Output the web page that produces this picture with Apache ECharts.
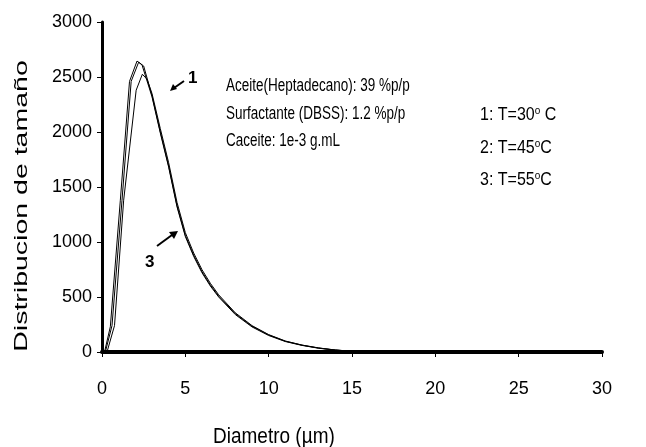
<!DOCTYPE html>
<html>
<head>
<meta charset="utf-8">
<script src="https://cdn.jsdelivr.net/npm/echarts@6/dist/echarts.min.js"></script>
<style>
html,body{margin:0;padding:0;background:#fff;}
#c{width:646px;height:447px;}
</style>
</head>
<body>
<div id="c"></div>
<script>
// Data
var x1 = [0.15, 0.5, 1.1, 1.65, 2.1, 2.4, 3, 3.5, 4, 4.5, 5, 5.5, 6, 6.5, 7, 8, 9, 10, 11, 12, 13, 14, 15, 16, 18, 20, 25, 30];
var y1 = [0, 230, 1380, 2460, 2645, 2610, 2320, 1990, 1680, 1320, 1050, 870, 720, 600, 500, 340, 228, 150, 95, 60, 34, 17, 7, 2, 0, 0, 0, 0];
var x2 = [0.2, 0.6, 1.2, 1.75, 2.2, 2.5, 3, 3.5, 4, 4.5, 5, 5.5, 6, 6.5, 7, 8, 9, 10, 11, 12, 13, 14, 15, 16, 18, 20, 25, 30];
var y2 = [0, 240, 1380, 2460, 2635, 2600, 2330, 2000, 1690, 1330, 1060, 880, 730, 610, 508, 348, 234, 155, 98, 62, 36, 18, 7, 2, 0, 0, 0, 0];
var x3 = [0.3, 0.75, 1.3, 2.05, 2.42, 2.7, 3, 3.5, 4, 4.5, 5, 5.5, 6, 6.5, 7, 8, 9, 10, 11, 12, 13, 14, 15, 16, 18, 20, 25, 30];
var y3 = [0, 240, 1380, 2380, 2525, 2480, 2350, 2030, 1720, 1360, 1085, 900, 748, 625, 520, 356, 240, 158, 100, 63, 37, 18, 7, 2, 0, 0, 0, 0];
var seriesNames = ['1: T=30° C', '2: T=45°C', '3: T=55°C'];
var xTicks = [0, 5, 10, 15, 20, 25, 30];
var yTicks = [0, 500, 1000, 1500, 2000, 2500, 3000];
var infoLines = ['Aceite(Heptadecano): 39 %p/p', 'Surfactante (DBSS): 1.2 %p/p', 'Caceite: 1e-3 g.mL'];

function pairs(xs, ys) { return xs.map(function (v, i) { return [v, ys[i]]; }); }

var F = '"Liberation Sans", Arial, sans-serif';
var chart = echarts.init(document.getElementById('c'), null, {renderer: 'canvas'});

function lineSeries(name, xs, ys) {
  return {
    name: name, type: 'line', data: pairs(xs, ys), showSymbol: false, symbol: 'none',
    lineStyle: {color: '#000', width: 1}, itemStyle: {color: '#000'}, smooth: false, z: 3
  };
}

function tempLabel(num, val, y) {
  return {
    type: 'text', x: 480, y: y, scaleX: 1, scaleY: 1.15,
    style: {
      text: '{n|' + num + ': T=' + val + '}{s|o}{n|' + (num === 1 ? ' C' : 'C') + '}',
      verticalAlign: 'middle',
      rich: {
        n: {fontFamily: F, fontSize: 16, fill: '#000'},
        s: {fontFamily: F, fontSize: 10, fill: '#000', verticalAlign: 'top', padding: [0, 0, 8, 0]}
      }
    }
  };
}

function infoText(txt, y) {
  return {type: 'text', x: 226, y: y, scaleX: 1, scaleY: 1.4,
    style: {text: txt, fontFamily: F, fontSize: 13.5, fill: '#000', align: 'left', verticalAlign: 'middle'}};
}

var option = {
  backgroundColor: '#fff',
  animation: false,
  grid: {left: 102, right: 44, top: 22, bottom: 95},
  xAxis: {
    type: 'value', min: 0, max: 30, interval: 5,
    axisLine: {show: true, lineStyle: {color: '#000', width: 4}},
    axisTick: {show: true, inside: false, length: 5, lineStyle: {color: '#000', width: 1}},
    axisLabel: {fontFamily: F, fontSize: 18, color: '#000', margin: 28,
      formatter: function (v) { return xTicks.indexOf(v) >= 0 ? String(v) : ''; }},
    splitLine: {show: false}
  },
  yAxis: {
    type: 'value', min: 0, max: 3000, interval: 500,
    axisLine: {show: true, lineStyle: {color: '#000', width: 3}},
    axisTick: {show: true, inside: false, length: 5, lineStyle: {color: '#000', width: 1}},
    axisLabel: {fontFamily: F, fontSize: 18, color: '#000', margin: 10,
      formatter: function (v) { return yTicks.indexOf(v) >= 0 ? String(v) : ''; }},
    splitLine: {show: false}
  },
  series: [
    lineSeries(seriesNames[0], x1, y1),
    lineSeries(seriesNames[1], x2, y2),
    lineSeries(seriesNames[2], x3, y3)
  ],
  graphic: [
    {type: 'text', x: 213, y: 437, scaleX: 1, scaleY: 1.15,
      style: {text: 'Diametro (\u00b5m)', fontFamily: F, fontSize: 19, fill: '#000', align: 'left', verticalAlign: 'middle'}},
    {type: 'text', x: 22, y: 206, rotation: Math.PI / 2, scaleX: 1.5, scaleY: 1,
      style: {text: 'Distribucion de tama\u00f1o', fontFamily: F, fontSize: 19, fill: '#000', align: 'center', verticalAlign: 'middle'}},
    infoText(infoLines[0], 86),
    infoText(infoLines[1], 114),
    infoText(infoLines[2], 141),
    tempLabel(1, '30', 115),
    tempLabel(2, '45', 148),
    tempLabel(3, '55', 180),
    {type: 'text', left: 188, top: 70, style: {text: '1', fontFamily: F, fontSize: 17, fontWeight: 'bold', fill: '#000'}},
    {type: 'line', shape: {x1: 184, y1: 81, x2: 174, y2: 88}, style: {stroke: '#000', lineWidth: 2}},
    {type: 'polygon', shape: {points: [[170, 91], [173, 84], [177, 89]]}, style: {fill: '#000'}},
    {type: 'text', left: 145, top: 254, style: {text: '3', fontFamily: F, fontSize: 17, fontWeight: 'bold', fill: '#000'}},
    {type: 'line', shape: {x1: 157, y1: 246, x2: 172, y2: 235}, style: {stroke: '#000', lineWidth: 2}},
    {type: 'polygon', shape: {points: [[178, 231], [169, 232], [174, 239]]}, style: {fill: '#000'}}
  ]
};
chart.setOption(option);
</script>
</body>
</html>
